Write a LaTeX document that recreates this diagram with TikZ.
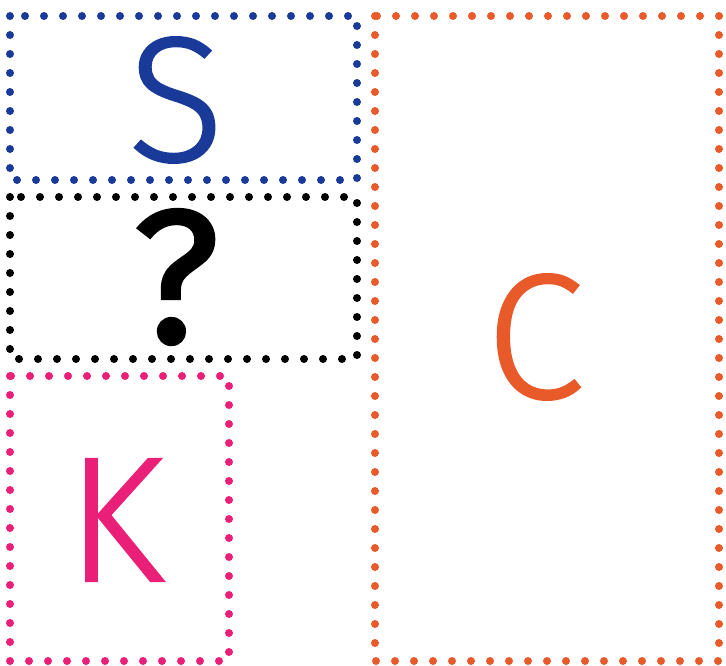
\documentclass[tikz,border=0pt]{standalone}
\usepackage{fontspec}
\setsansfont{Fira Sans}[UprightFont=* Light, FakeBold=1.2]
\newfontfamily\qfont{Fira Sans}[FakeBold=1.5]
\definecolor{sblue}{HTML}{1A3A9A}
\definecolor{kpink}{HTML}{EA1F78}
\definecolor{corange}{HTML}{E85A2A}
\tikzset{%
  dotbox/.style={line width=8pt, line cap=round, dash pattern=on 0pt off 19pt},
  letter/.style={font=\sffamily\fontsize{178}{178}\selectfont, inner sep=0pt},
}

\begin{document}
\begin{tikzpicture}[x=1pt, y=-1pt]
    \useasboundingbox (0,0) rectangle (726,665);
    \coordinate (S1) at (10,16);
    \coordinate (S2) at (357,180);
    \coordinate (Q1) at (10,197);
    \coordinate (Q2) at (357,359);
    \coordinate (K1) at (10,376);
    \coordinate (K2) at (229,661);
    \coordinate (C1) at (375,16);
    \coordinate (C2) at (719,661);

    %dotted frames
    \draw[dotbox, sblue] (S1) rectangle (S2);
    \draw[dotbox, black] (Q1) rectangle (Q2);
    \draw[dotbox, kpink] (K1) rectangle (K2);
    \draw[dotbox, corange] (C1) rectangle (C2);

    % letters
    \node[letter, text=sblue] (S) at (176,100) {S};
    \node[letter, text=black, font=\qfont\fontsize{190}{190}\selectfont] (Q) at (176,277) {?};
    \node[letter, text=kpink] (K) at (115,520) {K};
    \node[letter, text=corange] (C) at (535,337) {C};
\end{tikzpicture}
\end{document}
